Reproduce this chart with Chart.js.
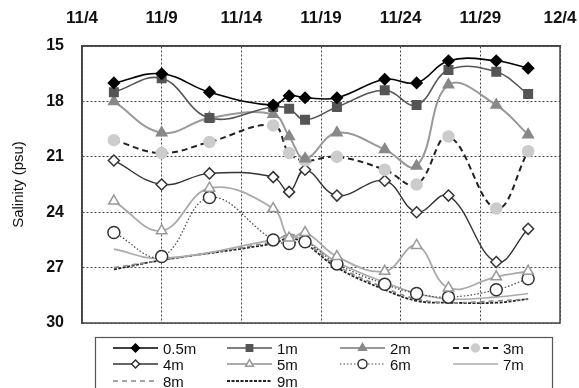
<!DOCTYPE html>
<html>
<head>
<meta charset="utf-8">
<script src="https://cdn.jsdelivr.net/npm/chart.js@4/dist/chart.umd.min.js"></script>
<style>
  html, body { margin: 0; padding: 0; background: #fff; }
  #wrap { width: 579px; height: 388px; position: relative; }
</style>
</head>
<body>
<div id="wrap"><canvas id="salChart" width="579" height="388"></canvas></div>
<script>
// tick labels on the top axis (every 5 days from 11/4)
const tickLabels = ['11/4', '11/9', '11/14', '11/19', '11/24', '11/29', '12/4'];

// sampling dates
const dates = ['11/6', '11/9', '11/12', '11/16', '11/17', '11/18', '11/20', '11/23', '11/25', '11/27', '11/30', '12/2'];

// salinity (psu) by depth
const depthNames = ['0.5m', '1m', '2m', '3m', '4m', '5m', '6m', '7m', '8m', '9m'];
const sal05 = [17.0, 16.5, 17.5, 18.2, 17.7, 17.8, 17.8, 16.8, 17.0, 15.8, 15.8, 16.2];
const sal1  = [17.5, 16.75, 18.9, 18.3, 18.4, 19.0, 18.3, 17.4, 18.2, 16.3, 16.4, 17.6];
const sal2  = [18.0, 19.7, 18.9, 18.7, 19.9, 21.1, 19.7, 20.6, 21.5, 17.1, 18.2, 19.8];
const sal3  = [20.1, 20.8, 20.2, 19.3, 20.8, 21.2, 21.0, 21.7, 22.5, 19.9, 23.8, 20.7];
const sal4  = [21.2, 22.5, 21.9, 22.1, 22.9, 21.7, 23.1, 22.3, 24.0, 23.1, 26.7, 24.9];
const sal5  = [23.4, 25.0, 22.7, 23.8, 25.4, 25.1, 26.4, 27.2, 25.8, 28.1, 27.5, 27.2];
const sal6  = [25.1, 26.4, 23.2, 25.5, 25.7, 25.6, 26.8, 27.9, 28.4, 28.6, 28.2, 27.6];
const sal7  = [26.0, 26.5, null, 25.5, 25.3, 25.5, 26.7, 27.8, 28.4, 28.7, 28.6, 28.4];
const sal8  = [27.0, 26.6, null, 25.6, 25.2, 25.6, 26.9, 28.1, 28.7, 28.9, 28.8, 28.7];
const sal9  = [27.1, 26.6, null, 25.7, 25.4, 25.7, 27.0, 28.2, 28.8, 28.9, 28.9, 28.7];

// days after 11/4
function dayOf(s) {
  const [m, d] = s.split('/').map(Number);
  return m === 11 ? d - 4 : d + 26;
}
const days = dates.map(dayOf);

function pts(arr) {
  return arr.map((v, i) => ({ x: days[i], y: v }));
}

const FONT = '"Liberation Sans", Arial, sans-serif';

const styles = [
  { data: sal05, color: '#000', width: 1.6, dash: [], point: 'rectRot', r: 5.5, fill: '#000', pcol: '#000' },
  { data: sal1,  color: '#555', width: 1.6, dash: [], point: 'rect', r: 6, fill: '#555', pcol: '#555' },
  { data: sal2,  color: '#999', width: 2, dash: [], point: 'triangle', r: 6, fill: '#888', pcol: '#888' },
  { data: sal3,  color: '#222', width: 2, dash: [6, 4], point: 'circle', r: 5.5, fill: '#ccc', pcol: '#ccc' },
  { data: sal4,  color: '#333', width: 1.4, dash: [], point: 'rectRot', r: 5.5, fill: '#fff', pcol: '#333' },
  { data: sal5,  color: '#aaa', width: 1.8, dash: [], point: 'triangle', r: 6, fill: '#fff', pcol: '#999' },
  { data: sal6,  color: '#444', width: 1.2, dash: [1.5, 2], point: 'circle', r: 6, fill: '#fff', pcol: '#333' },
  { data: sal7,  color: '#aaa', width: 1.6, dash: [], point: false, r: 0 },
  { data: sal8,  color: '#888', width: 1.6, dash: [5, 4], point: false, r: 0 },
  { data: sal9,  color: '#222', width: 1.8, dash: [3, 1.5], point: false, r: 0 }
];

const datasets = styles.map((s, i) => ({
  label: depthNames[i],
  data: pts(s.data),
  borderColor: s.color,
  borderWidth: s.width,
  borderDash: s.dash,
  tension: 0.4,
  spanGaps: true,
  pointStyle: s.point,
  pointRadius: s.r,
  pointBackgroundColor: s.fill || '#fff',
  pointBorderColor: s.pcol || s.color,
  pointBorderWidth: 1.5,
  fill: false
}));

// legend box drawn below the plot
const boxLegend = {
  id: 'boxLegend',
  afterDraw(chart) {
    const ctx = chart.ctx;
    ctx.save();
    ctx.strokeStyle = '#555';
    ctx.lineWidth = 1.2;
    ctx.strokeRect(95.5, 337.5, 457, 60);
    const colX = [113, 227, 340, 453];
    const rowY = [348, 364, 381];
    ctx.font = '15px ' + FONT;
    ctx.textBaseline = 'middle';
    chart.data.datasets.forEach((ds, i) => {
      const x = colX[i % 4], y = rowY[Math.floor(i / 4)];
      ctx.save();
      ctx.strokeStyle = ds.borderColor;
      ctx.lineWidth = ds.borderWidth;
      ctx.setLineDash(ds.borderDash);
      ctx.beginPath();
      ctx.moveTo(x, y);
      ctx.lineTo(x + 45, y);
      ctx.stroke();
      ctx.restore();
      if (ds.pointStyle) {
        ctx.save();
        ctx.fillStyle = ds.pointBackgroundColor;
        ctx.strokeStyle = ds.pointBorderColor;
        ctx.lineWidth = 1.5;
        Chart.helpers.drawPoint(ctx, { pointStyle: ds.pointStyle, radius: ds.pointRadius - 1.5, borderWidth: 1.5, rotation: 0 }, x + 22.5, y);
        ctx.restore();
      }
      ctx.fillStyle = '#111';
      ctx.fillText(ds.label, x + 50, y + 2);
    });
    ctx.restore();
  }
};

const ctx = document.getElementById('salChart').getContext('2d');
new Chart(ctx, {
  type: 'line',
  data: { datasets: datasets },
  options: {
    responsive: false,
    animation: false,
    layout: { autoPadding: false, padding: { left: 10, right: 19, top: 6, bottom: 65 } },
    plugins: { legend: { display: false }, tooltip: { enabled: false } },
    scales: {
      x: {
        type: 'linear',
        position: 'top',
        min: 0,
        max: 30,
        ticks: {
          stepSize: 5,
          color: '#111',
          padding: 17,
          maxRotation: 0,
          font: { family: FONT, size: 17, weight: 'bold' },
          callback: (v) => tickLabels[v / 5]
        },
        grid: { color: '#444', lineWidth: 1, drawTicks: false },
        border: { display: true, color: '#444', width: 1.5, dash: [2, 2] },
        afterFit: (scale) => {
          scale.height = 40;
          scale.paddingLeft = 0;
          scale.paddingRight = 0;
        }
      },
      y: {
        reverse: true,
        min: 15,
        max: 30,
        ticks: {
          stepSize: 3,
          color: '#111',
          padding: 18,
          font: { family: FONT, size: 16, weight: 'bold' }
        },
        title: {
          display: true,
          text: 'Salinity (psu)',
          color: '#111',
          padding: { top: 0, bottom: 2 },
          font: { family: FONT, size: 15 }
        },
        grid: { color: '#444', lineWidth: 1, drawTicks: false },
        border: { display: true, color: '#444', width: 1.5, dash: [2, 2] },
        afterFit: (scale) => {
          scale.width = 72;
          scale.paddingTop = 0;
          scale.paddingBottom = 0;
        }
      }
    }
  },
  plugins: [
    boxLegend,
    {
      id: 'frame',
      afterDatasetsDraw(chart) {
        const a = chart.chartArea, c = chart.ctx;
        c.save();
        c.strokeStyle = '#444';
        c.lineWidth = 1.5;
        c.strokeRect(a.left, a.top, a.right - a.left, a.bottom - a.top);
        c.restore();
      }
    }
  ]
});
</script>
</body>
</html>
